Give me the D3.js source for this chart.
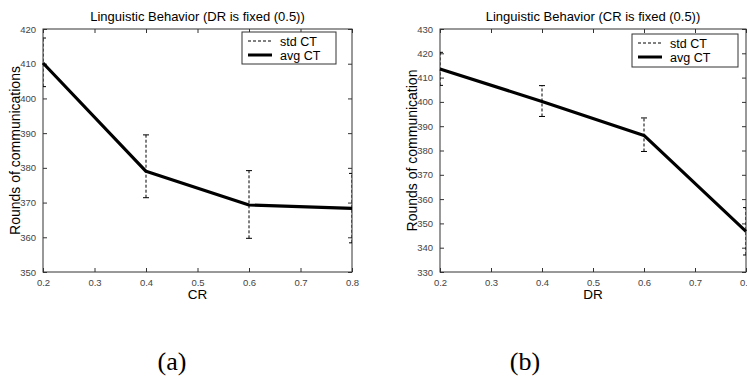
<!DOCTYPE html>
<html>
<head>
<meta charset="utf-8">
<script src="https://cdn.jsdelivr.net/npm/d3@7"></script>
<style>
  body { margin: 0; background: #fff; }
  svg { display: block; }
</style>
</head>
<body>
<svg id="chart" width="747" height="378"></svg>
<script>
// values
const xValues = [0.2, 0.4, 0.6, 0.8];
const xTicks = [0.2, 0.3, 0.4, 0.5, 0.6, 0.7, 0.8];

// (a) DR fixed, CR varies
const avgCR = [410.2, 379.0, 369.3, 368.3];
const lowCR = [403.4, 371.4, 359.7, 358.4];
const highCR = [417.4, 389.5, 379.2, 378.4];
const yTicksA = [350, 360, 370, 380, 390, 400, 410, 420];

// (b) CR fixed, DR varies
const avgDR = [413.5, 400.2, 386.2, 346.7];
const lowDR = [406.8, 394.0, 379.6, 337.0];
const highDR = [420.4, 406.7, 393.4, 356.5];
const yTicksB = [330, 340, 350, 360, 370, 380, 390, 400, 410, 420, 430];

const legendLabels = ["std CT", "avg CT"];

const svg = d3.select("#chart");

function drawPanel(opts) {
  const { left, right, top, bottom, avg, low, high, yTicks, title, xLabel, yLabel, yLabelX, legendBox, caption, captionX } = opts;

  const xScale = d3.scaleLinear().domain([0.2, 0.8]).range([left, right]);
  const yScale = d3.scaleLinear().domain([yTicks[0], yTicks[yTicks.length - 1]]).range([bottom, top]);

  const g = svg.append("g");
  const clipId = "clip" + Math.round(left);
  g.append("clipPath").attr("id", clipId)
    .append("rect")
    .attr("x", left).attr("y", top)
    .attr("width", right - left).attr("height", bottom - top);

  // inward ticks on all four sides, matlab style
  const tickLen = 4;
  g.append("g")
    .attr("transform", `translate(0,${bottom})`)
    .call(d3.axisBottom(xScale).tickValues(xTicks).tickSizeInner(-tickLen).tickSizeOuter(0).tickPadding(7).tickFormat(d3.format(".1f")))
    .call(a => a.select(".domain").remove());
  g.append("g")
    .attr("transform", `translate(0,${top})`)
    .call(d3.axisTop(xScale).tickValues(xTicks).tickSizeInner(-tickLen).tickSizeOuter(0).tickFormat(""))
    .call(a => a.select(".domain").remove());
  g.append("g")
    .attr("transform", `translate(${left},0)`)
    .call(d3.axisLeft(yScale).tickValues(yTicks).tickSizeInner(-tickLen).tickSizeOuter(0).tickPadding(7).tickFormat(d3.format("d")))
    .call(a => a.select(".domain").remove());
  g.append("g")
    .attr("transform", `translate(${right},0)`)
    .call(d3.axisRight(yScale).tickValues(yTicks).tickSizeInner(-tickLen).tickSizeOuter(0).tickFormat(""))
    .call(a => a.select(".domain").remove());

  g.selectAll(".tick line").attr("stroke", "#333").attr("stroke-width", 1);
  g.selectAll(".tick text")
    .attr("fill", "#444")
    .style("font", "9.5px 'Liberation Sans', Arial, sans-serif");

  g.append("rect")
    .attr("x", left).attr("y", top)
    .attr("width", right - left).attr("height", bottom - top)
    .attr("fill", "none").attr("stroke", "#333").attr("stroke-width", 1);

  // error bars
  const data = xValues.map((x, i) => ({ x, avg: avg[i], low: low[i], high: high[i] }));
  const eb = g.append("g").attr("clip-path", `url(#${clipId})`);
  eb.selectAll("line.bar").data(data).enter().append("line")
    .attr("x1", d => xScale(d.x)).attr("x2", d => xScale(d.x))
    .attr("y1", d => yScale(d.low)).attr("y2", d => yScale(d.high))
    .attr("stroke", "#000").attr("stroke-width", 1).attr("stroke-dasharray", "3,2");
  ["low", "high"].forEach(k => {
    eb.selectAll("line.cap" + k).data(data).enter().append("line")
      .attr("x1", d => xScale(d.x) - 3).attr("x2", d => xScale(d.x) + 3)
      .attr("y1", d => yScale(d[k])).attr("y2", d => yScale(d[k]))
      .attr("stroke", "#000").attr("stroke-width", 1);
  });

  const line = d3.line().x(d => xScale(d.x)).y(d => yScale(d.avg));
  g.append("path")
    .attr("d", line(data))
    .attr("fill", "none").attr("stroke", "#000").attr("stroke-width", 3.2)
    .attr("stroke-linejoin", "round");

  // titles
  const sans = "'Liberation Sans', Arial, sans-serif";
  g.append("text").attr("x", (left + right) / 2).attr("y", 21)
    .attr("text-anchor", "middle").style("font", `13px ${sans}`).text(title);
  g.append("text").attr("x", (left + right) / 2).attr("y", 299)
    .attr("text-anchor", "middle").style("font", `13.5px ${sans}`).text(xLabel);
  g.append("text")
    .attr("transform", `translate(${yLabelX},${(top + bottom) / 2}) rotate(-90)`)
    .attr("text-anchor", "middle").style("font", `14px ${sans}`).text(yLabel);

  // legend
  const lg = g.append("g");
  lg.append("rect")
    .attr("x", legendBox.x).attr("y", legendBox.y)
    .attr("width", legendBox.w).attr("height", legendBox.h)
    .attr("fill", "#fff").attr("stroke", "#333").attr("stroke-width", 1);
  legendLabels.forEach((lab, i) => {
    const cy = legendBox.y + 9 + i * 14;
    lg.append("line")
      .attr("x1", legendBox.x + 6).attr("x2", legendBox.x + 30)
      .attr("y1", cy).attr("y2", cy)
      .attr("stroke", "#000")
      .attr("stroke-width", i === 0 ? 1 : 3)
      .attr("stroke-dasharray", i === 0 ? "3,2" : null);
    lg.append("text")
      .attr("x", legendBox.x + 38).attr("y", cy + 4.5)
      .style("font", `12.5px ${sans}`).text(lab);
  });

  svg.append("text")
    .attr("x", captionX).attr("y", 370)
    .attr("text-anchor", "middle")
    .style("font", "26px 'Liberation Serif', 'Times New Roman', serif")
    .text(caption);
}

drawPanel({
  left: 43, right: 352, top: 29, bottom: 272,
  avg: avgCR, low: lowCR, high: highCR, yTicks: yTicksA,
  title: "Linguistic Behavior (DR is fixed (0.5))",
  xLabel: "CR", yLabel: "Rounds of communications", yLabelX: 20,
  legendBox: { x: 242, y: 32, w: 94, h: 32 },
  caption: "(a)", captionX: 172
});

drawPanel({
  left: 440, right: 746, top: 29, bottom: 272,
  avg: avgDR, low: lowDR, high: highDR, yTicks: yTicksB,
  title: "Linguistic Behavior (CR is fixed (0.5))",
  xLabel: "DR", yLabel: "Rounds of communication", yLabelX: 417,
  legendBox: { x: 632, y: 34, w: 106, h: 33 },
  caption: "(b)", captionX: 525
});
</script>
</body>
</html>
